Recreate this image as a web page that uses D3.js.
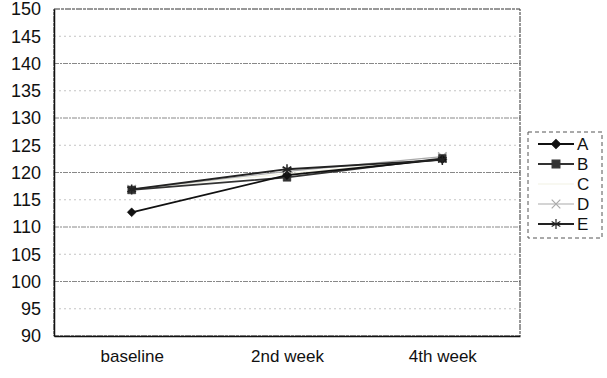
<!DOCTYPE html>
<html>
<head>
<meta charset="utf-8">
<script src="https://cdn.jsdelivr.net/npm/d3@7"></script>
<style>
  body { margin: 0; background: #fff; }
  text { font-family: "Liberation Sans", Arial, sans-serif; fill: #111; }
</style>
</head>
<body>
<svg id="chart" width="607" height="378"></svg>
<script>
// data
var weeks = ["baseline", "2nd week", "4th week"];
var yTicks = [90, 95, 100, 105, 110, 115, 120, 125, 130, 135, 140, 145, 150];
var seriesNames = ["A", "B", "C", "D", "E"];
var valsA = [112.7, 119.5, 122.4];
var valsB = [116.8, 119.1, 122.6];
var valsC = [116.9, 119.8, 122.5];
var valsD = [116.9, 120.2, 122.9];
var valsE = [116.9, 120.6, 122.3];

var series = [
  {name: "A", values: valsA, color: "#111", symbol: d3.symbolDiamond2, size: 50},
  {name: "B", values: valsB, color: "#333", symbol: d3.symbolSquare, size: 60},
  {name: "C", values: valsC, color: "#f2f2e4", symbol: null, size: 0},
  {name: "D", values: valsD, color: "#aaa", symbol: d3.symbolTimes, size: 50},
  {name: "E", values: valsE, color: "#222", symbol: d3.symbolAsterisk, size: 70}
];

var margin = {top: 9, right: 87, bottom: 42, left: 54},
    width = 607 - margin.left - margin.right,
    height = 378 - margin.top - margin.bottom;

var svg = d3.select("#chart");
var g = svg.append("g").attr("transform", "translate(" + margin.left + "," + margin.top + ")");

var x = d3.scalePoint().domain(weeks).range([0, width]).padding(0.5);
var y = d3.scaleLinear().domain([90, 150]).range([height, 0]);

// gridlines
g.append("g").selectAll("line")
    .data(yTicks.filter(function(d) { return d > 90 && d < 150; }))
  .enter().append("line")
    .attr("x1", 0).attr("x2", width)
    .attr("y1", function(d) { return y(d); })
    .attr("y2", function(d) { return y(d); })
    .style("stroke", function(d) { return d % 10 == 0 ? "#888" : "#c4c4c4"; })
    .style("stroke-width", 1)
    .style("stroke-dasharray", function(d) { return d % 10 == 0 ? "5,1,2,1" : "2,3"; });

// plot border
g.append("rect")
    .attr("width", width).attr("height", height)
    .style("fill", "none")
    .style("stroke", "#333")
    .style("stroke-dasharray", "6,1,3,1");

// y axis
var yAxis = d3.axisLeft(y).tickValues(yTicks).tickSize(0).tickPadding(13);
g.append("g").call(yAxis)
    .call(function(a) { a.select(".domain").style("stroke", "#111").style("stroke-width", 1.5); })
    .selectAll("text").style("font-size", "18px");

// x axis
var xAxis = d3.axisBottom(x).tickSize(0).tickPadding(14);
g.append("g").attr("transform", "translate(0," + height + ")").call(xAxis)
    .call(function(a) { a.select(".domain").style("stroke", "#111").style("stroke-width", 1.5); })
    .selectAll("text").style("font-size", "17px");

var line = d3.line()
    .x(function(d, i) { return x(weeks[i]); })
    .y(function(d) { return y(d); });

// lines, light ones first
var order = [2, 3, 1, 0, 4];
order.forEach(function(k) {
  var s = series[k];
  g.append("path")
      .datum(s.values)
      .attr("d", line)
      .style("fill", "none")
      .style("stroke", s.color)
      .style("stroke-width", s.name == "D" || s.name == "C" ? 1.2 : 1.8);
  if (s.symbol) {
    g.append("g").selectAll("path")
        .data(s.values)
      .enter().append("path")
        .attr("transform", function(d, i) { return "translate(" + x(weeks[i]) + "," + y(d) + ")"; })
        .attr("d", d3.symbol().type(s.symbol).size(s.size))
        .style("fill", s.color)
        .style("stroke", s.color)
        .style("stroke-width", s.symbol == d3.symbolTimes || s.symbol == d3.symbolAsterisk ? 1.5 : 0.5);
  }
});

// legend
var legend = svg.append("g").attr("transform", "translate(528,132)");
legend.append("rect")
    .attr("width", 74).attr("height", 106)
    .style("fill", "none")
    .style("stroke", "#555")
    .style("stroke-dasharray", "4,3");

var item = legend.selectAll(".item")
    .data(series)
  .enter().append("g")
    .attr("class", "item")
    .attr("transform", function(d, i) { return "translate(0," + (12 + i * 20) + ")"; });

item.append("line")
    .attr("x1", 10).attr("x2", 46)
    .style("stroke", function(d) { return d.color; })
    .style("stroke-width", function(d) { return d.name == "D" || d.name == "C" ? 1.2 : 1.8; });

item.filter(function(d) { return d.symbol; }).append("path")
    .attr("transform", "translate(28,0)")
    .attr("d", function(d) { return d3.symbol().type(d.symbol).size(d.size)(); })
    .style("fill", function(d) { return d.color; })
    .style("stroke", function(d) { return d.color; })
    .style("stroke-width", 1.2);

item.append("text")
    .attr("x", 49)
    .attr("dy", ".36em")
    .style("font-size", "17px")
    .text(function(d) { return d.name; });
</script>
</body>
</html>
